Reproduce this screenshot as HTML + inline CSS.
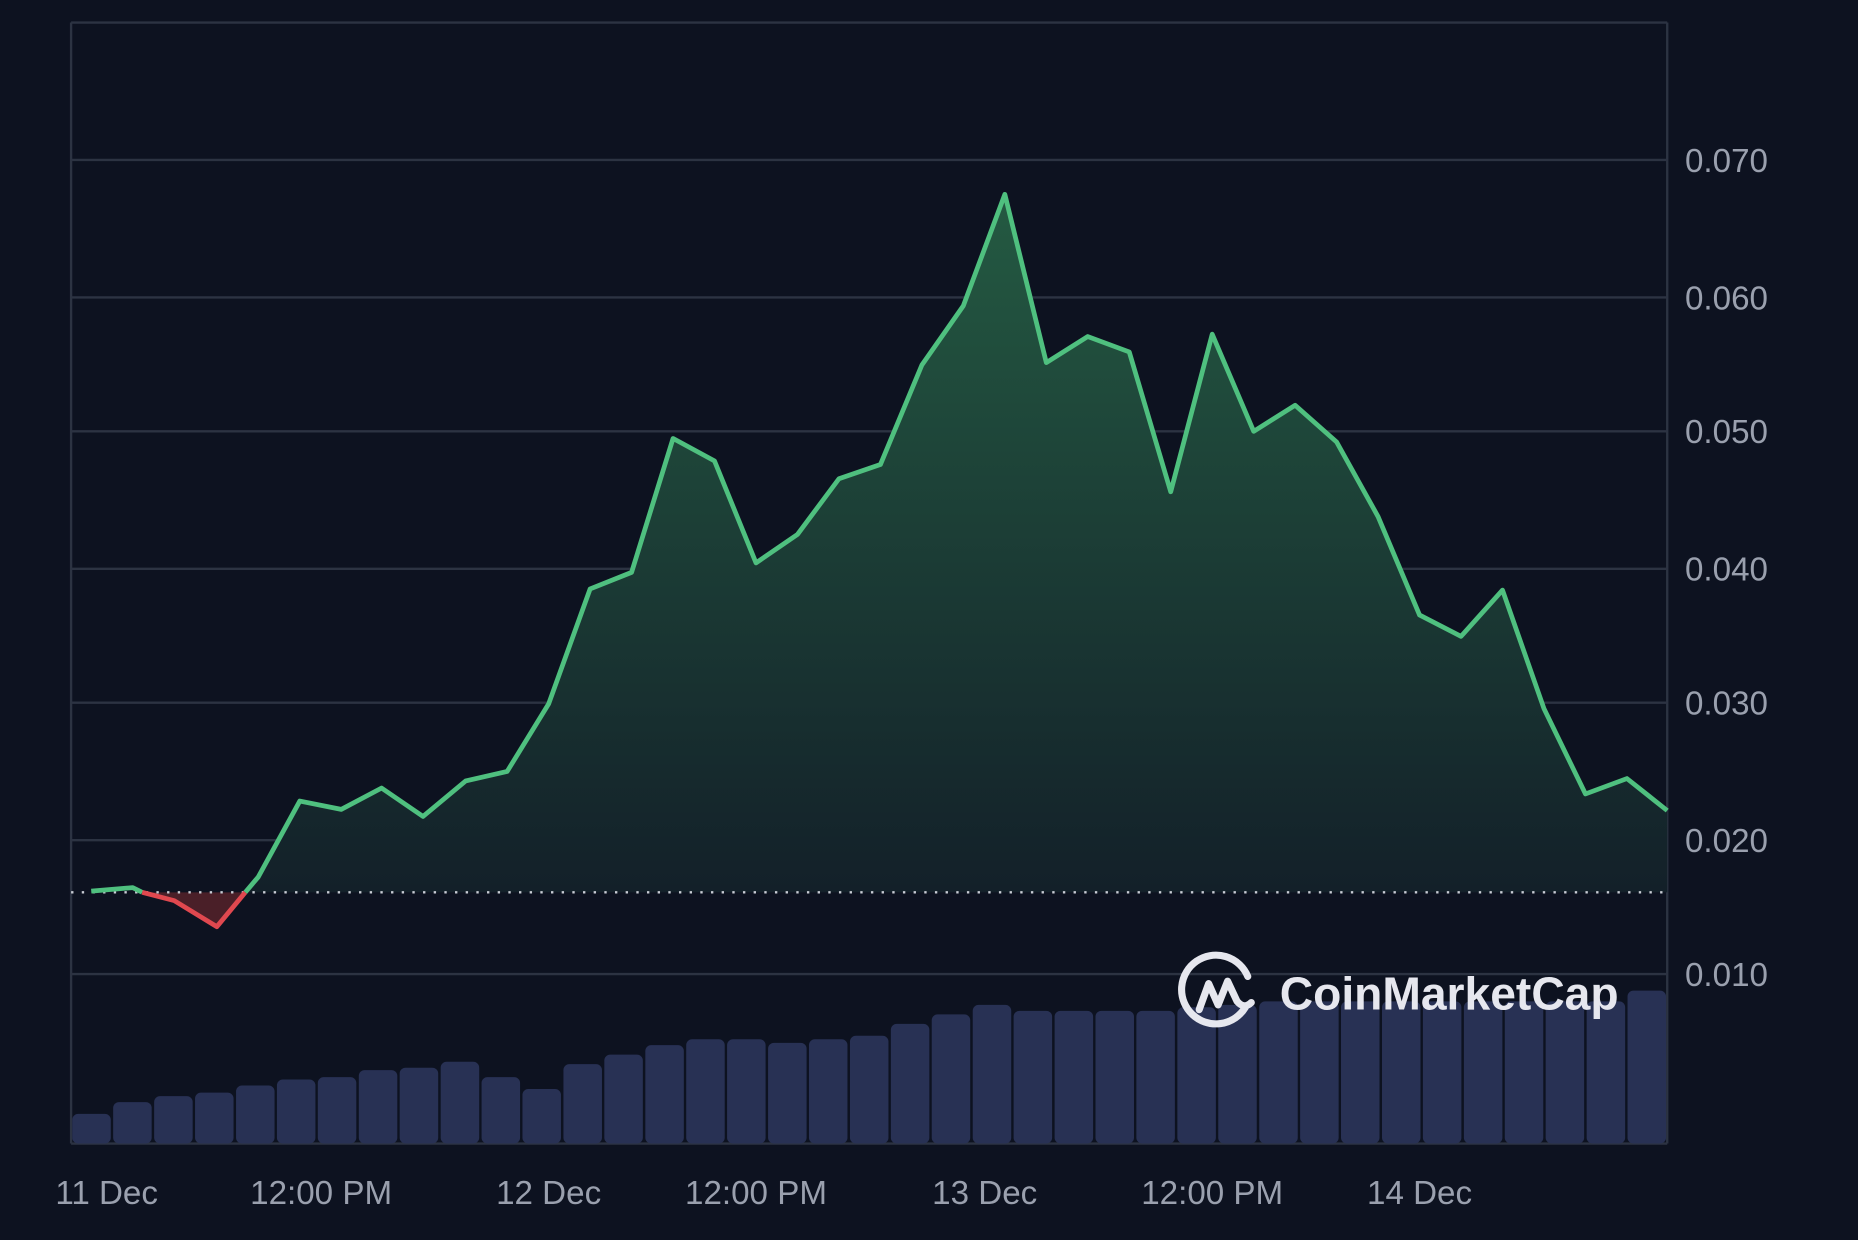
<!DOCTYPE html>
<html><head><meta charset="utf-8"><style>
html,body{margin:0;padding:0;background:#0d1220;}
svg{display:block;}
</style></head><body>
<svg width="1858" height="1240" viewBox="0 0 1568 1046.4" preserveAspectRatio="none" xmlns="http://www.w3.org/2000/svg" font-family="Liberation Sans, sans-serif">
<defs>
<linearGradient id="g" x1="0" x2="0" y1="164" y2="753" gradientUnits="userSpaceOnUse">
<stop offset="0" stop-color="#245a42"/>
<stop offset="1" stop-color="#132029"/>
</linearGradient>
</defs>
<rect width="1568" height="1046.4" fill="#0d1220"/>
<g stroke="#2c3342" stroke-width="2">
<line x1="60" y1="19" x2="1407" y2="19"/>
<line x1="60" y1="135" x2="1407" y2="135"/>
<line x1="60" y1="251" x2="1407" y2="251"/>
<line x1="60" y1="364" x2="1407" y2="364"/>
<line x1="60" y1="480" x2="1407" y2="480"/>
<line x1="60" y1="593" x2="1407" y2="593"/>
<line x1="60" y1="709" x2="1407" y2="709"/>
<line x1="60" y1="822" x2="1407" y2="822"/>
<line x1="60" y1="19" x2="60" y2="965"/>
<line x1="1407" y1="19" x2="1407" y2="965"/>
<line x1="60" y1="965" x2="1407" y2="965"/>
</g>
<polygon fill="url(#g)" points="207,753 218,740 253,676 288,683 322,665 357,689 393,659 428,651 463,594 498,497 533,483 568,370 603,389 638,475 673,451 708,404 743,392 778,308 813,258 848,164 883,306 918,284 953,297 988,415 1023,282 1058,364 1093,342 1128,373 1163,436 1198,519 1233,537 1268,498 1303,598 1338,670 1373,657 1407,684 1407,753"/>
<polygon fill="#4a1f28" points="120,753 147,760 183,782 207,753"/>
<g fill="#283154">
<rect x="61.0" y="940" width="32.5" height="25" rx="5"/>
<rect x="95.5" y="930" width="32.5" height="35" rx="5"/>
<rect x="130.1" y="925" width="32.5" height="40" rx="5"/>
<rect x="164.6" y="922" width="32.5" height="43" rx="5"/>
<rect x="199.2" y="916" width="32.5" height="49" rx="5"/>
<rect x="233.7" y="911" width="32.5" height="54" rx="5"/>
<rect x="268.2" y="909" width="32.5" height="56" rx="5"/>
<rect x="302.8" y="903" width="32.5" height="62" rx="5"/>
<rect x="337.3" y="901" width="32.5" height="64" rx="5"/>
<rect x="371.9" y="896" width="32.5" height="69" rx="5"/>
<rect x="406.4" y="909" width="32.5" height="56" rx="5"/>
<rect x="440.9" y="919" width="32.5" height="46" rx="5"/>
<rect x="475.5" y="898" width="32.5" height="67" rx="5"/>
<rect x="510.0" y="890" width="32.5" height="75" rx="5"/>
<rect x="544.6" y="882" width="32.5" height="83" rx="5"/>
<rect x="579.1" y="877" width="32.5" height="88" rx="5"/>
<rect x="613.6" y="877" width="32.5" height="88" rx="5"/>
<rect x="648.2" y="880" width="32.5" height="85" rx="5"/>
<rect x="682.7" y="877" width="32.5" height="88" rx="5"/>
<rect x="717.3" y="874" width="32.5" height="91" rx="5"/>
<rect x="751.8" y="864" width="32.5" height="101" rx="5"/>
<rect x="786.3" y="856" width="32.5" height="109" rx="5"/>
<rect x="820.9" y="848" width="32.5" height="117" rx="5"/>
<rect x="855.4" y="853" width="32.5" height="112" rx="5"/>
<rect x="890.0" y="853" width="32.5" height="112" rx="5"/>
<rect x="924.5" y="853" width="32.5" height="112" rx="5"/>
<rect x="959.0" y="853" width="32.5" height="112" rx="5"/>
<rect x="993.6" y="850" width="32.5" height="115" rx="5"/>
<rect x="1028.1" y="848" width="32.5" height="117" rx="5"/>
<rect x="1062.7" y="845" width="32.5" height="120" rx="5"/>
<rect x="1097.2" y="845" width="32.5" height="120" rx="5"/>
<rect x="1131.7" y="845" width="32.5" height="120" rx="5"/>
<rect x="1166.3" y="845" width="32.5" height="120" rx="5"/>
<rect x="1200.8" y="845" width="32.5" height="120" rx="5"/>
<rect x="1235.4" y="845" width="32.5" height="120" rx="5"/>
<rect x="1269.9" y="845" width="32.5" height="120" rx="5"/>
<rect x="1304.4" y="845" width="32.5" height="120" rx="5"/>
<rect x="1339.0" y="845" width="32.5" height="120" rx="5"/>
<rect x="1373.5" y="836" width="32.5" height="129" rx="5"/>
</g>
<line x1="60" y1="753" x2="1407" y2="753" stroke="#c8ccd4" stroke-width="2" stroke-dasharray="2,7"/>
<polyline fill="none" stroke="#4fc07f" stroke-width="4" stroke-linejoin="round" points="77,752 112,749 120,753"/>
<polyline fill="none" stroke="#e0484f" stroke-width="4" stroke-linejoin="round" points="120,753 147,760 183,782 207,753"/>
<polyline fill="none" stroke="#4fc07f" stroke-width="4" stroke-linejoin="round" points="207,753 218,740 253,676 288,683 322,665 357,689 393,659 428,651 463,594 498,497 533,483 568,370 603,389 638,475 673,451 708,404 743,392 778,308 813,258 848,164 883,306 918,284 953,297 988,415 1023,282 1058,364 1093,342 1128,373 1163,436 1198,519 1233,537 1268,498 1303,598 1338,670 1373,657 1407,684"/>
<g fill="#9aa0ae" font-size="28">
<text x="1422" y="145">0.070</text>
<text x="1422" y="261">0.060</text>
<text x="1422" y="374">0.050</text>
<text x="1422" y="490">0.040</text>
<text x="1422" y="603">0.030</text>
<text x="1422" y="719">0.020</text>
<text x="1422" y="832">0.010</text>
</g>
<g fill="#9aa0ae" font-size="28" text-anchor="middle">
<text x="90" y="1016">11 Dec</text>
<text x="271" y="1016">12:00 PM</text>
<text x="463" y="1016">12 Dec</text>
<text x="638" y="1016">12:00 PM</text>
<text x="831" y="1016">13 Dec</text>
<text x="1023" y="1016">12:00 PM</text>
<text x="1198" y="1016">14 Dec</text>
</g>
<g stroke="#e6e7ee" stroke-width="6" fill="none" stroke-linecap="round" stroke-linejoin="round">
<path d="M1051,850 A29,29 0 1 1 1053,824"/>
<path d="M1012,852 L1020,830 L1028,848 L1036,828 L1044,845 Q1050,852 1056,846"/>
</g>
<text x="1080" y="852" fill="#e6e7ee" font-size="39" font-weight="bold">CoinMarketCap</text>
</svg>
</body></html>
